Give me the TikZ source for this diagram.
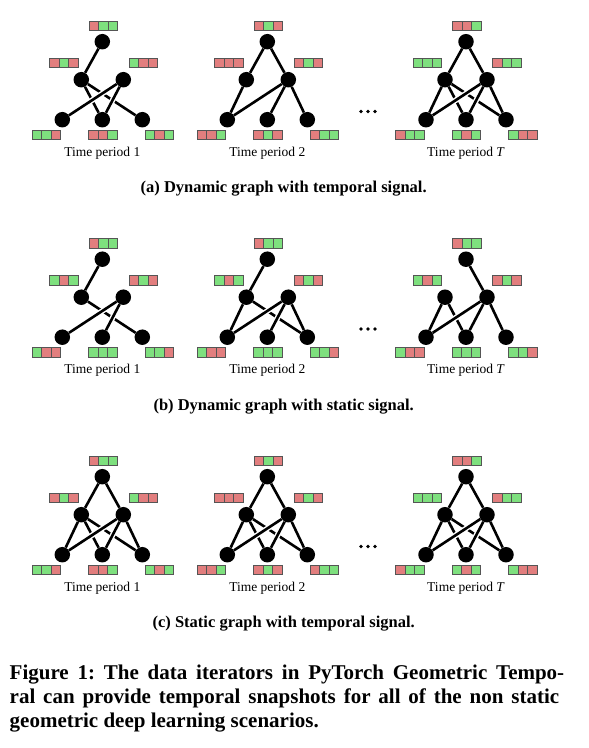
\documentclass[tikz,border=0pt]{standalone}
\usepackage{fontspec}
\setmainfont{Liberation Serif}
\usepackage{xcolor}
\usepackage{tikz}

\definecolor{sigR}{RGB}{226,126,126}
\definecolor{sigG}{RGB}{126,224,126}
\definecolor{cellline}{RGB}{85,85,85}

\pgfdeclarelayer{edges}
\pgfsetlayers{edges,main}

\tikzset{
    vertex/.style={circle, fill=black, minimum size=15.5pt, inner sep=0pt},
    link/.style={line width=2.6pt, preaction={draw=white, line width=5.5pt}},
    cell/.style={draw=cellline, line width=0.9pt},
    period/.style={font=\fontsize{13.5}{15}\selectfont},
    subcap/.style={font=\fontsize{16.5}{19}\selectfont\bfseries},
    figcap/.style={anchor=base west, inner sep=0pt, font=\fontsize{21}{24}\selectfont\bfseries\frenchspacing},
}

% one signal box of three cells, pattern like RGG
\newcommand{\signal}[3]{\signalcells{#1}{#2}#3}
\newcommand{\signalcells}[5]{%
    \draw[cell, fill=sig#3] (#1-14.25, #2-4.75) rectangle ++(9.5, 9.5);
    \draw[cell, fill=sig#4] (#1-4.75, #2-4.75) rectangle ++(9.5, 9.5);
    \draw[cell, fill=sig#5] (#1+4.75, #2-4.75) rectangle ++(9.5, 9.5);
}

% six vertices of one snapshot, top vertex at (#2,#3)
\newcommand{\snapshot}[3]{%
    \node[vertex] (#1t) at (#2, #3) {};
    \node[vertex] (#1l) at (#2-21, #3+38) {};
    \node[vertex] (#1r) at (#2+21, #3+38) {};
    \node[vertex] (#1a) at (#2-40, #3+78) {};
    \node[vertex] (#1b) at (#2, #3+78) {};
    \node[vertex] (#1c) at (#2+40, #3+78) {};
}

% signals: top, mid left, mid right, bottom left, bottom mid, bottom right
\newcommand{\signals}[8]{%
    \signal{#1+1}{#2-16}{#3}
    \signal{#1-38.5}{#2+21.3}{#4}
    \signal{#1+41}{#2+21.3}{#5}
    \signal{#1-56}{#2+93}{#6}
    \signal{#1+0.5}{#2+93}{#7}
    \signal{#1+57}{#2+93}{#8}
}

\begin{document}
\begin{tikzpicture}[x=1pt, y=-1pt]
    \useasboundingbox (0,0) rectangle (589,748);

    % (a) dynamic graph, temporal signal
    \snapshot{a1}{102.3}{41.7}
    \snapshot{a2}{267.3}{41.7}
    \snapshot{a3}{466}{41.7}
    \signals{102.3}{41.7}{RGG}{RGR}{GRR}{GGR}{RRG}{GRG}
    \signals{267.3}{41.7}{RGR}{RRR}{RGR}{RRG}{RGR}{RGG}
    \signals{466}{41.7}{RRG}{GGG}{RGG}{RGG}{GRG}{GRR}
    \begin{pgfonlayer}{edges}
        \foreach \u/\v in {t/l, l/b, l/c, r/a, r/b}
            \draw[link] (a1\u) -- (a1\v);
        \foreach \u/\v in {t/l, t/r, l/a, r/a, r/b, r/c}
            \draw[link] (a2\u) -- (a2\v);
        \foreach \u/\v in {t/l, t/r, l/a, l/b, l/c, r/a, r/b, r/c}
            \draw[link] (a3\u) -- (a3\v);
    \end{pgfonlayer}
    \node[period] (a1lab) at (102.3, 153.2) {Time period 1};
    \node[period] (a2lab) at (267.3, 153.2) {Time period 2};
    \node[period] (a3lab) at (466, 153.2) {Time period \textit{T}};
    \foreach \dx in {-7,0,7}
        \fill (368+\dx, 111.5) circle (1.9);
    \node[subcap] (acap) at (283.7, 189) {(a) Dynamic graph with temporal signal.};

    % (b) dynamic graph, static signal
    \snapshot{b1}{102.3}{259.2}
    \snapshot{b2}{267.3}{259.2}
    \snapshot{b3}{466}{259.2}
    \foreach \px in {102.3, 267.3, 466}{
        \signals{\px}{259.2}{RGG}{GRG}{RGR}{GRR}{GGG}{GGR}
    }
    \begin{pgfonlayer}{edges}
        \foreach \u/\v in {t/l, l/c, r/a, r/b}
            \draw[link] (b1\u) -- (b1\v);
        \foreach \u/\v in {t/l, l/a, l/c, r/a, r/b, r/c}
            \draw[link] (b2\u) -- (b2\v);
        \foreach \u/\v in {t/r, l/a, l/b, r/a, r/b, r/c}
            \draw[link] (b3\u) -- (b3\v);
    \end{pgfonlayer}
    \node[period] (b1lab) at (102.3, 370.7) {Time period 1};
    \node[period] (b2lab) at (267.3, 370.7) {Time period 2};
    \node[period] (b3lab) at (466, 370.7) {Time period \textit{T}};
    \foreach \dx in {-7,0,7}
        \fill (368+\dx, 329) circle (1.9);
    \node[subcap] (bcap) at (283.7, 406.5) {(b) Dynamic graph with static signal.};

    % (c) static graph, temporal signal
    \snapshot{c1}{102.3}{476.7}
    \snapshot{c2}{267.3}{476.7}
    \snapshot{c3}{466}{476.7}
    \signals{102.3}{476.7}{RGG}{RGR}{GRR}{GGR}{RRG}{GRG}
    \signals{267.3}{476.7}{RGR}{RRR}{RGR}{RRG}{RGR}{RGG}
    \signals{466}{476.7}{RRG}{GGG}{RGG}{RGG}{GRG}{GRR}
    \begin{pgfonlayer}{edges}
        \foreach \g in {c1, c2, c3}
            \foreach \u/\v in {t/l, t/r, l/a, l/b, l/c, r/a, r/b, r/c}
                \draw[link] (\g\u) -- (\g\v);
    \end{pgfonlayer}
    \node[period] (c1lab) at (102.3, 588.2) {Time period 1};
    \node[period] (c2lab) at (267.3, 588.2) {Time period 2};
    \node[period] (c3lab) at (466, 588.2) {Time period \textit{T}};
    \foreach \dx in {-7,0,7}
        \fill (368+\dx, 546.5) circle (1.9);
    \node[subcap] (ccap) at (283.7, 624) {(c) Static graph with temporal signal.};

    % figure caption, justified lines
    \node[figcap] (cap1) at (9.5, 679) {\makebox[554.5pt][s]{Figure 1: The data iterators in PyTorch Geometric Tempo-}};
    \node[figcap] (cap2) at (9.5, 703) {\makebox[549.5pt][s]{ral can provide temporal snapshots for all of the non static}};
    \node[figcap] (cap3) at (9.5, 727) {geometric deep learning scenarios.};
\end{tikzpicture}
\end{document}
